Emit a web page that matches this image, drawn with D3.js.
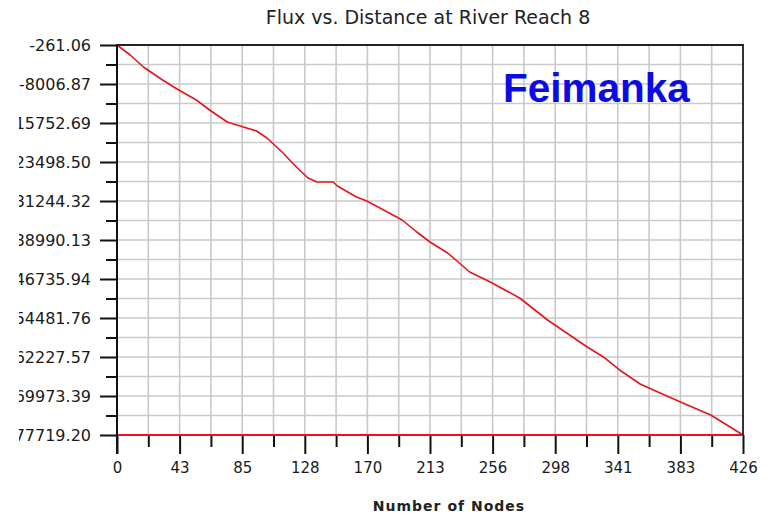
<!DOCTYPE html>
<html><head><meta charset="utf-8">
<script src="https://cdn.jsdelivr.net/npm/d3@7"></script>
<style>body{margin:0;background:#fff}svg{display:block}</style>
</head><body>
<svg id="chart" width="775" height="519"></svg>
<script>
const chartTitle = "Flux vs. Distance at River Reach 8";
const xAxisTitle = "Number of Nodes";
const watermark = "Feimanka";
const xTickLabels = ["0","43","85","128","170","213","256","298","341","383","426"];
const yTickLabels = ["-261.06","-8006.87","-15752.69","-23498.50","-31244.32","-38990.13","-46735.94","-54481.76","-62227.57","-69973.39","-77719.20"];
const nodes = [0, 9, 18, 31, 42, 54, 63, 75, 86, 95, 102, 113, 122, 130, 136, 147, 150, 157, 163, 170, 184, 194, 204, 213, 225, 233, 240, 254, 274, 293, 304, 320, 331, 342, 356, 365, 385, 404, 426];
const flux = [-261, -2247, -4630, -7212, -9198, -11185, -13171, -15554, -16547, -17341, -18732, -21711, -24491, -26676, -27471, -27471, -28265, -29457, -30450, -31244, -33429, -35018, -37401, -39387, -41572, -43558, -45345, -47331, -50509, -54879, -57063, -60241, -62227, -64809, -67590, -68781, -71363, -73747, -77719];

const W = 775, H = 519;
const m = {left: 117, right: 32, top: 45, bottom: 84};
const xMax = 426;
const yMin = Number(yTickLabels[yTickLabels.length - 1]);
const yMax = Number(yTickLabels[0]);

const x = d3.scaleLinear().domain([0, xMax]).range([m.left, W - m.right]);
const y = d3.scaleLinear().domain([yMin, yMax]).range([H - m.bottom, m.top]);

const xMajor = xTickLabels.map((_, i) => xMax * i / (xTickLabels.length - 1));
const xMinor = xMajor.slice(1).map((v, i) => (v + xMajor[i]) / 2);
const yMajor = yTickLabels.map(Number);
const yMinor = yMajor.slice(1).map((v, i) => (v + yMajor[i]) / 2);

const svg = d3.select("#chart");
svg.append("rect").attr("width", W).attr("height", H).attr("fill", "#fff");

const FONT = "'DejaVu Sans', sans-serif";
const gridColor = "#c9c9c9";
const red = "#e3161c";

// grid
const grid = svg.append("g");
grid.selectAll("line.v").data(xMajor.concat(xMinor).filter(v => v > 0 && v < xMax))
  .join("line").attr("class", "v")
  .attr("x1", d => x(d)).attr("x2", d => x(d))
  .attr("y1", y(yMax)).attr("y2", y(yMin))
  .attr("stroke", gridColor).attr("stroke-width", 1.6);
grid.selectAll("line.h").data(yMajor.concat(yMinor).filter(v => v > yMin && v < yMax))
  .join("line").attr("class", "h")
  .attr("x1", x(0)).attr("x2", x(xMax))
  .attr("y1", d => y(d)).attr("y2", d => y(d))
  .attr("stroke", gridColor).attr("stroke-width", 1.6);

// x axis
const xAxisG = svg.append("g").attr("transform", `translate(0,${y(yMin)})`);
xAxisG.call(d3.axisBottom(x).tickValues(xMajor).tickSize(19).tickSizeOuter(0).tickPadding(8)
  .tickFormat((d, i) => xTickLabels[i]));
xAxisG.select(".domain").remove();
xAxisG.selectAll(".tick line").attr("stroke", "#111").attr("stroke-width", 2);
xAxisG.selectAll(".tick text").attr("font-family", FONT).attr("font-size", 15).attr("fill", "#1a1a1a");
const xMinorG = svg.append("g").attr("transform", `translate(0,${y(yMin)})`);
xMinorG.call(d3.axisBottom(x).tickValues(xMinor).tickSize(12).tickFormat(""));
xMinorG.select(".domain").remove();
xMinorG.selectAll(".tick line").attr("stroke", "#111").attr("stroke-width", 2);

// red baseline along x axis
svg.append("line")
  .attr("x1", x(0)).attr("x2", x(xMax))
  .attr("y1", y(yMin)).attr("y2", y(yMin))
  .attr("stroke", red).attr("stroke-width", 2);

// curve
svg.append("path")
  .datum(nodes.map((n, i) => [n, flux[i]]))
  .attr("fill", "none").attr("stroke", red).attr("stroke-width", 1.6)
  .attr("stroke-linejoin", "round")
  .attr("d", d3.line().x(d => x(d[0])).y(d => y(d[1])));

// y axis
svg.append("defs").append("clipPath").attr("id", "ylabclip")
  .append("rect").attr("x", 19 - m.left).attr("y", -40).attr("width", 200).attr("height", H + 80);
const yAxisG = svg.append("g").attr("transform", `translate(${x(0)},0)`).attr("clip-path", "url(#ylabclip)");
yAxisG.call(d3.axisLeft(y).tickValues(yMajor).tickSize(17).tickSizeOuter(0).tickPadding(9)
  .tickFormat((d, i) => yTickLabels[i]));
yAxisG.select(".domain").remove();
yAxisG.selectAll(".tick line").attr("stroke", "#111").attr("stroke-width", 2);
yAxisG.selectAll(".tick text").attr("font-family", FONT).attr("font-size", 16).attr("fill", "#1a1a1a");
const yMinorG = svg.append("g").attr("transform", `translate(${x(0)},0)`);
yMinorG.call(d3.axisLeft(y).tickValues(yMinor).tickSize(11).tickFormat(""));
yMinorG.select(".domain").remove();
yMinorG.selectAll(".tick line").attr("stroke", "#111").attr("stroke-width", 2);

// frame: left axis line, top and right borders
svg.append("line").attr("x1", x(0)).attr("x2", x(0)).attr("y1", y(yMax) - 1).attr("y2", y(yMin) + 19)
  .attr("stroke", "#111").attr("stroke-width", 2);
svg.append("line").attr("x1", x(0)).attr("x2", x(xMax) + 1).attr("y1", y(yMax)).attr("y2", y(yMax))
  .attr("stroke", "#222").attr("stroke-width", 2);
svg.append("line").attr("x1", x(xMax)).attr("x2", x(xMax)).attr("y1", y(yMax)).attr("y2", y(yMin))
  .attr("stroke", "#333").attr("stroke-width", 2);

// texts
svg.append("text").attr("x", 428).attr("y", 24).attr("text-anchor", "middle")
  .attr("font-family", FONT).attr("font-size", 19).attr("fill", "#222").text(chartTitle);
svg.append("text").attr("x", 449).attr("y", 511).attr("text-anchor", "middle")
  .attr("font-family", FONT).attr("font-weight", "bold").attr("font-size", 14)
  .attr("letter-spacing", 1).attr("fill", "#222").text(xAxisTitle);
svg.append("text").attr("x", 503).attr("y", 102)
  .attr("font-family", "'Liberation Sans', Arial, sans-serif").attr("font-weight", "bold")
  .attr("font-size", 40.5).attr("fill", "#0b0be3").text(watermark);
</script>
</body></html>
